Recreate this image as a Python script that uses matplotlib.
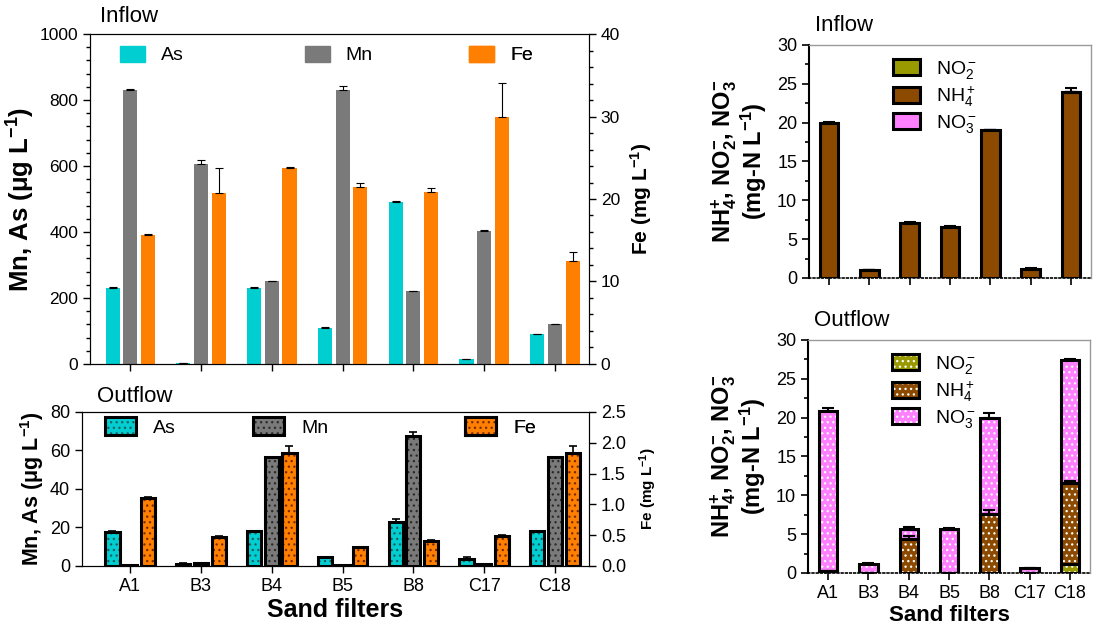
import numpy as np
import matplotlib.pyplot as plt
from matplotlib.patches import Patch

plt.rcParams['font.family'] = ['Liberation Sans', 'DejaVu Sans']
plt.rcParams['mathtext.fontset'] = 'custom'
plt.rcParams['mathtext.rm'] = 'Liberation Sans'
plt.rcParams['mathtext.it'] = 'Liberation Sans:italic'
plt.rcParams['mathtext.bf'] = 'Liberation Sans:bold'
plt.rcParams['mathtext.default'] = 'regular'
plt.rcParams['hatch.linewidth'] = 0.9

filters = ['A1', 'B3', 'B4', 'B5', 'B8', 'C17', 'C18']
metals = ['As', 'Mn', 'Fe']

# Inflow metals: As, Mn in ug/L, Fe in mg/L
as_in = [230, 3, 230, 110, 490, 15, 90]
as_in_err = [2, 1, 2, 2, 5, 1, 1]
mn_in = [830, 607, 250, 830, 220, 402, 120]
mn_in_err = [4, 10, 3, 12, 2, 3, 2]
fe_in = [15.6, 20.7, 23.8, 21.5, 20.9, 29.9, 12.5]
fe_in_err = [0.1, 3.1, 0.1, 0.5, 0.4, 4.2, 1.1]

# Outflow metals
as_out = [17.5, 1.2, 18.0, 4.5, 23.0, 3.8, 18.0]
as_out_err = [0.5, 0.4, 0.3, 0.2, 1.5, 1.0, 0.3]
mn_out = [0.5, 1.3, 56.5, 0.6, 67.5, 1.1, 56.5]
mn_out_err = [0.1, 0.3, 0.3, 0.1, 2.0, 0.1, 0.3]
fe_out = [1.10, 0.47, 1.84, 0.30, 0.41, 0.49, 1.84]
fe_out_err = [0.02, 0.01, 0.11, 0.01, 0.01, 0.02, 0.11]

# Nitrogen species, mg-N/L
no2_in = [0, 0, 0, 0, 0, 0, 0]
nh4_in = [20.0, 1.0, 7.1, 6.6, 19.0, 1.2, 24.0]
nh4_in_err = [0.05, 0.05, 0.05, 0.05, 0.1, 0.05, 0.4]
no3_in = [0, 0, 0, 0, 0, 0, 0]
no3_in_err = [0, 0, 0, 0, 0, 0, 0]

no2_out = [0.1, 0, 0, 0, 0, 0, 1.1]
nh4_out = [0.1, 0, 4.4, 0, 7.6, 0, 10.5]
nh4_out_err = [0, 0, 0.4, 0, 0.5, 0, 0.2]
no3_out = [20.7, 1.2, 1.2, 5.7, 12.4, 0.6, 15.8]
no3_out_err = [0.3, 0.1, 0.3, 0.1, 0.6, 0.1, 0.2]

c_as = '#00CED1'
c_mn = '#7A7A7A'
c_fe = '#FF7F00'
c_no2 = '#999900'
c_nh4 = '#8C4A00'
c_no3 = '#FF80FF'

x = np.arange(len(filters))
zeros = np.zeros(len(filters))

ug_label = 'Mn, As ($\\mu$g L$^{\\mathbf{-1}}$)'
fe_label = 'Fe (mg L$^{\\mathbf{-1}}$)'
n_label = ('NH$_\\mathbf{4}^\\mathbf{+}$, NO$_\\mathbf{2}^\\mathbf{-}$, NO$_\\mathbf{3}^\\mathbf{-}$'
           '\n(mg-N L$^{\\mathbf{-1}}$)')


def up_err(ax, xs, tops, err, lw, cap):
    ax.errorbar(xs, tops, yerr=[zeros, err], fmt='none', ecolor='k',
                elinewidth=lw, capsize=cap, capthick=lw, zorder=4)


def dotted_bar(ax, xs, h, w, color, dot_color, bottom=None):
    ax.bar(xs, h, w, bottom=bottom, color=color, linewidth=0, zorder=2)
    ax.bar(xs, h, w, bottom=bottom, fill=False, edgecolor=dot_color,
           hatch='...', linewidth=0, zorder=2)
    ax.bar(xs, h, w, bottom=bottom, fill=False, edgecolor='k',
           linewidth=2.2, zorder=3)


def dotted_handle(color, dot_color):
    return (Patch(facecolor=color, linewidth=0),
            Patch(fill=False, edgecolor=dot_color, hatch='...', linewidth=0),
            Patch(fill=False, edgecolor='k', linewidth=2.2))


def spread_legend(ax, handles, labels, xs, y, **kw):
    # one small legend per entry so the gaps can follow the original
    for h, lab, xa in zip(handles, labels, xs):
        leg = ax.legend(handles=[h], labels=[lab], loc='upper left',
                        bbox_to_anchor=(xa, y), frameon=False,
                        borderaxespad=0, borderpad=0, **kw)
        ax.add_artist(leg)


fig = plt.figure(figsize=(10.93, 6.37), dpi=100)

w = 0.2
off = 0.25

# ---------- top-left: inflow metals ----------
ax1 = fig.add_axes([0.0823, 0.4286, 0.4565, 0.518])
ax1b = ax1.twinx()
ax1.bar(x - off, as_in, w, color=c_as, zorder=2)
ax1.bar(x, mn_in, w, color=c_mn, zorder=2)
up_err(ax1, x - off, as_in, as_in_err, 0.8, 3)
up_err(ax1, x, mn_in, mn_in_err, 0.8, 3)
ax1b.bar(x + off, fe_in, w, color=c_fe, zorder=2)
up_err(ax1b, x + off, fe_in, fe_in_err, 0.8, 3)

ax1.set_xlim(-0.57, 6.48)
ax1.set_ylim(0, 1000)
ax1b.set_ylim(0, 40)
ax1.set_yticks(np.arange(0, 1001, 200))
ax1.set_yticks(np.arange(0, 1001, 40), minor=True)
ax1b.set_yticks(np.arange(0, 41, 10))
ax1b.set_yticks(np.arange(0, 41, 2), minor=True)
ax1.set_xticks(x)
ax1.set_xticklabels([])
ax1.tick_params(labelsize=12.5, length=5, width=1)
ax1.tick_params(which='minor', length=3, width=1)
ax1b.tick_params(labelsize=12.5, length=5, width=1)
ax1b.tick_params(which='minor', length=3, width=1)
ax1.set_ylabel(ug_label, fontsize=18.5, fontweight='bold', labelpad=2)
ax1b.set_ylabel(fe_label, fontsize=15, fontweight='bold', labelpad=6)
ax1.text(0.02, 1.02, 'Inflow', transform=ax1.transAxes, fontsize=16, va='bottom')
spread_legend(ax1b, [Patch(color=c) for c in (c_as, c_mn, c_fe)], metals,
              [0.06, 0.43, 0.76], 0.965,
              fontsize=14, handlelength=1.3, handleheight=0.9, handletextpad=0.8)

# ---------- bottom-left: outflow metals ----------
ax2 = fig.add_axes([0.075, 0.1115, 0.4639, 0.2418])
ax2b = ax2.twinx()
dotted_bar(ax2, x - off, as_out, w, c_as, '#1f5f5f')
dotted_bar(ax2, x, mn_out, w, c_mn, '#2a2a2a')
up_err(ax2, x - off, as_out, as_out_err, 1.2, 3)
up_err(ax2, x, mn_out, mn_out_err, 1.2, 3)
dotted_bar(ax2b, x + off, fe_out, w, c_fe, '#7a2a00')
up_err(ax2b, x + off, fe_out, fe_out_err, 1.2, 3)

ax2.set_xlim(-0.68, 6.48)
ax2.set_ylim(0, 80)
ax2b.set_ylim(0, 2.5)
ax2.set_yticks(np.arange(0, 81, 20))
ax2b.set_yticks(np.arange(0, 2.51, 0.5))
ax2b.set_yticklabels(['%.1f' % v for v in np.arange(0, 2.51, 0.5)])
ax2.set_xticks(x)
ax2.set_xticklabels(filters)
ax2.tick_params(labelsize=13, length=5, width=1)
ax2b.tick_params(labelsize=13, length=5, width=1)
ax2.set_ylabel(ug_label, fontsize=15.5, fontweight='bold', labelpad=3)
ax2b.set_ylabel(fe_label, fontsize=11, fontweight='bold', labelpad=8)
ax2.set_xlabel('Sand filters', fontsize=18, fontweight='bold', labelpad=2)
ax2.text(0.03, 1.03, 'Outflow', transform=ax2.transAxes, fontsize=16, va='bottom')
spread_legend(ax2b, [dotted_handle(c_as, '#1f5f5f'), dotted_handle(c_mn, '#2a2a2a'),
                     dotted_handle(c_fe, '#7a2a00')], metals,
              [0.045, 0.337, 0.755], 0.97,
              fontsize=14, handlelength=1.6, handleheight=1.1, handletextpad=0.9)


# ---------- right panels: nitrogen ----------
def n_panel(ax, no2, nh4, nh4_err, no3, no3_err, dotted, title):
    bw = 0.46
    b2 = np.array(no2, dtype=float)
    b3 = b2 + np.array(nh4)
    tot = b3 + np.array(no3)
    if dotted:
        dotted_bar(ax, x, no2, bw, c_no2, 'white')
        dotted_bar(ax, x, nh4, bw, c_nh4, 'white', bottom=b2)
        dotted_bar(ax, x, no3, bw, c_no3, 'white', bottom=b3)
        handles = [dotted_handle(c, 'white') for c in (c_no2, c_nh4, c_no3)]
    else:
        for h, b, c in ((no2, None, c_no2), (nh4, b2, c_nh4), (no3, b3, c_no3)):
            ax.bar(x, h, bw, bottom=b, color=c, edgecolor='k', linewidth=2.2, zorder=2)
        handles = [Patch(facecolor=c, edgecolor='k', linewidth=2.2)
                   for c in (c_no2, c_nh4, c_no3)]
    up_err(ax, x, b3, nh4_err, 1.5, 4)
    up_err(ax, x, tot, no3_err, 1.5, 4)
    ax.set_xlim(-0.5, 6.5)
    ax.set_ylim(0, 30)
    ax.set_yticks(np.arange(0, 31, 5))
    ax.set_yticks(np.arange(0, 31, 2.5), minor=True)
    ax.set_xticks(x)
    ax.tick_params(labelsize=13, length=5, width=1.2)
    ax.tick_params(which='minor', length=3, width=1.2)
    ax.spines['left'].set_linewidth(1.5)
    for s in ('top', 'right'):
        ax.spines[s].set_color('#9a9a9a')
        ax.spines[s].set_linewidth(1.0)
    ax.spines['bottom'].set_linestyle((0, (1, 1.5)))
    ax.spines['bottom'].set_linewidth(1.2)
    ax.set_ylabel(n_label, fontsize=17, fontweight='bold', labelpad=6, linespacing=1.0)
    ax.text(0.02, 1.04, title, transform=ax.transAxes, fontsize=16, va='bottom')
    ax.legend(handles=handles, labels=['NO$_2^-$', 'NH$_4^+$', 'NO$_3^-$'],
              loc='upper left', bbox_to_anchor=(0.27, 0.975), frameon=False,
              fontsize=14, handlelength=1.4, handleheight=0.9,
              handletextpad=0.8, labelspacing=0.2, borderaxespad=0)


ax3 = fig.add_axes([0.7402, 0.5636, 0.258, 0.3658])
n_panel(ax3, no2_in, nh4_in, nh4_in_err, no3_in, no3_in_err, False, 'Inflow')
ax3.set_xticklabels([])

ax4 = fig.add_axes([0.7393, 0.1005, 0.258, 0.3658])
n_panel(ax4, no2_out, nh4_out, nh4_out_err, no3_out, no3_out_err, True, 'Outflow')
ax4.set_xticklabels(filters)
ax4.set_xlabel('Sand filters', fontsize=16, fontweight='bold', labelpad=2)

fig.savefig('out.png', dpi=100)
